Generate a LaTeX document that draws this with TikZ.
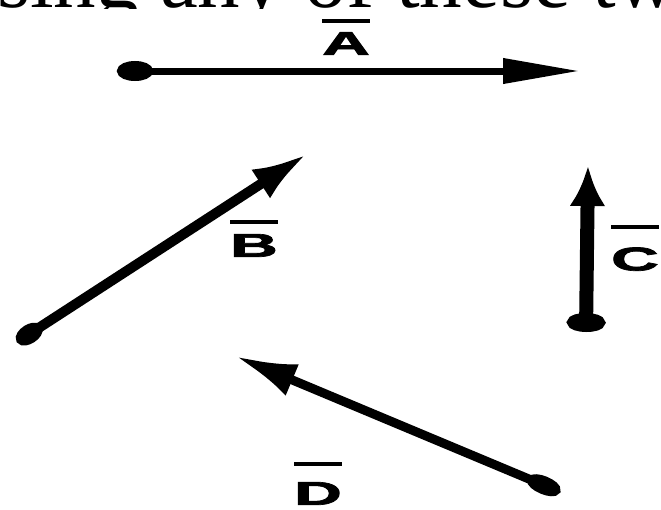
\documentclass[tikz,border=0pt]{standalone}
\usepackage{fontspec}
\usetikzlibrary{arrows.meta}
\newfontfamily\lblfont{Liberation Sans}[BoldFeatures={FakeBold=2}]
\newfontfamily\topfont{Liberation Serif}
% bold letter, stretched, with a thick bar above it
\newcommand\veclbl[2][10pt]{\setbox0\hbox{\scalebox{2}[1]{#2}}\vbox{\hrule height 4pt width \wd0\kern#1\box0}}
\tikzset{
  vlabel/.style={inner sep=0pt, anchor=south, font=\lblfont\bfseries\fontsize{33}{33}\selectfont},
  toptext/.style={inner sep=0pt, anchor=base west, font=\topfont\fontsize{85}{85}\selectfont},
}

\begin{document}
\begin{tikzpicture}[x=1pt,y=-1pt]
\useasboundingbox (0,0) rectangle (661,509);
\begin{scope}
  \clip (0,0) rectangle (661,8);
  \node[toptext] (cut) at (-3,7) {sing any of these tw};
\end{scope}

\coordinate (A0) at (117,71);  \coordinate (A1) at (580,71);
\coordinate (B0) at (17,342);  \coordinate (B1) at (307,154);
\coordinate (C0) at (586,332); \coordinate (C1) at (588,166);
\coordinate (D0) at (560,492); \coordinate (D1) at (235,356);

\draw[line width=7pt, {Ellipse[length=36pt,width=20pt]}-{Triangle[length=77pt,width=24pt]}] (A0) -- (A1);
\draw[line width=10pt, {Ellipse[length=29pt,width=19pt]}-{Latex[length=55pt,width=34pt]}] (B0) -- (B1);
\draw[line width=14pt, {Ellipse[length=19pt,width=38pt]}-{Latex[length=40pt,width=36pt]}] (C0) -- (C1);
\draw[line width=9pt, {Ellipse[length=35pt,width=18pt]}-{Latex[length=62pt,width=34pt]}] (D0) -- (D1);

\node[vlabel] (lblA) at (346,55)  {\veclbl[9pt]{A}};
\node[vlabel] (lblB) at (254,257) {\veclbl[10pt]{B}};
\node[vlabel] (lblC) at (635,271) {\veclbl[18pt]{C}};
\node[vlabel] (lblD) at (318,505) {\veclbl[16pt]{D}};
\end{tikzpicture}
\end{document}
